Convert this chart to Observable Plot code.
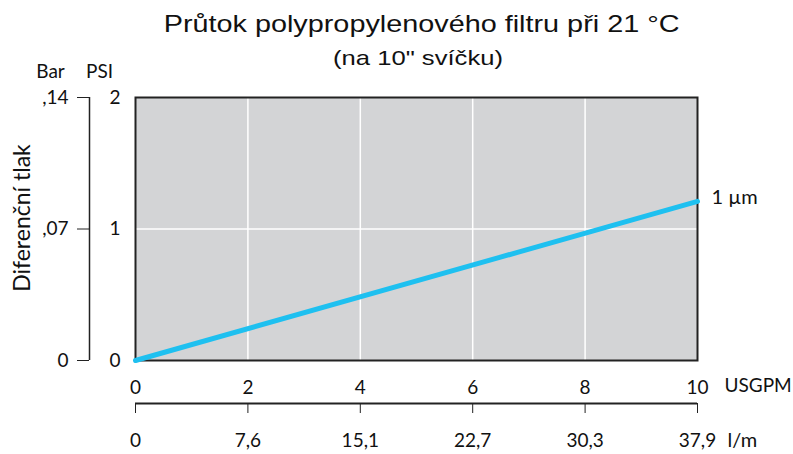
<!DOCTYPE html>
<html>
<head>
<meta charset="utf-8">
<script src="https://cdn.jsdelivr.net/npm/d3@7"></script>
<script src="https://cdn.jsdelivr.net/npm/@observablehq/plot@0.6"></script>
<style>
  body { margin: 0; background: #fff; width: 793px; height: 454px; overflow: hidden; position: relative; }
  #head { position: absolute; left: 0; top: 0; width: 793px; height: 80px; z-index: 2; font-family: "Liberation Sans", Arial, sans-serif; color: #111; pointer-events: none; }
  #title { position: absolute; left: 0; width: 843px; top: 10px; text-align: center; font-size: 24px; transform: scaleX(1.2); transform-origin: 421px 0; white-space: nowrap; }
  #sub { position: absolute; left: 0; width: 836px; top: 46px; text-align: center; font-size: 21px; transform: scaleX(1.22); transform-origin: 418px 0; white-space: nowrap; }
  #chart { position: absolute; left: 0; top: 0; }
  #chart svg { display: block; }
</style>
</head>
<body>
<div id="chart"></div>
<div id="head">
  <div id="title">Průtok polypropylenového filtru při 21 °C</div>
  <div id="sub">(na 10" svíčku)</div>
</div>
<script>
const flowUSGPM = [0, 10];
const pressurePSI = [0, 1.21];
const seriesLabel = "1 µm";
const xTicks = [0, 2, 4, 6, 8, 10];
const lpmLabels = ["0", "7,6", "15,1", "22,7", "30,3", "37,9"];
const psiTicks = [0, 1, 2];
const barLabels = ["0", ",07", ",14"];

const data = flowUSGPM.map((x, i) => ({x, y: pressurePSI[i]}));
const font = "Lato, 'Open Sans', sans-serif";

const chart = Plot.plot({
  width: 793,
  height: 454,
  marginLeft: 135,
  marginRight: 96,
  marginTop: 97,
  marginBottom: 94,
  style: {fontFamily: font, fontSize: "19px", color: "#111", background: "transparent"},
  x: {domain: [0, 10]},
  y: {domain: [0, 2]},
  marks: [
    Plot.frame({fill: "#d3d4d6"}),
    Plot.ruleX([2, 4, 6, 8], {stroke: "#fff", strokeWidth: 1.5}),
    Plot.ruleY([1], {stroke: "#fff", strokeWidth: 1.5}),
    Plot.frame({stroke: "#222", strokeWidth: 2}),
    Plot.line(data, {x: "x", y: "y", stroke: "#1ec0f0", strokeWidth: 5, strokeLinecap: "round"}),
    Plot.text([data[data.length - 1]], {x: "x", y: "y", text: () => seriesLabel, textAnchor: "start", dx: 14, dy: -4, fontSize: 20}),
    // PSI axis
    Plot.axisY({ticks: psiTicks, tickSize: 0, tickPadding: 15, tickFormat: d => String(d), label: null, fontSize: 19}),
    // Bar axis
    Plot.axisY({ticks: psiTicks, tickSize: 12, tickPadding: 9, tickFormat: d => barLabels[psiTicks.indexOf(d)], label: null, dx: -46, stroke: "#222", fontSize: 19}),
    Plot.ruleX([0], {y1: 0, y2: 2, dx: -46, stroke: "#222", strokeWidth: 1.5}),
    Plot.text([2], {x: () => 0, y: d => d, dx: -85, dy: -26, text: () => "Bar", textAnchor: "middle", fontSize: 19}),
    Plot.text([2], {x: () => 0, y: d => d, dx: -36, dy: -26, text: () => "PSI", textAnchor: "middle", fontSize: 19}),
    Plot.text([1], {x: () => 0, y: d => d, dx: -113, dy: -11, rotate: -90, text: () => "Diferenční tlak", textAnchor: "middle", fontSize: 23}),
    // USGPM axis
    Plot.axisX({ticks: xTicks, tickSize: 0, tickPadding: 20, tickFormat: d => String(d), label: null, fontSize: 19}),
    Plot.text([10], {x: d => d, y: () => 0, dx: 27, dy: 25, text: () => "USGPM", textAnchor: "start", fontSize: 19}),
    // l/m axis
    Plot.ruleY([0], {x1: 0, x2: 10, dy: 43, stroke: "#222", strokeWidth: 2}),
    Plot.axisX({ticks: xTicks, tickSize: 10, tickPadding: 20, tickFormat: d => lpmLabels[xTicks.indexOf(d)], label: null, dy: 43, stroke: "#222", fontSize: 19}),
    Plot.text([10], {x: d => d, y: () => 0, dx: 30, dy: 80, text: () => "l/m", textAnchor: "start", fontSize: 20})
  ]
});
document.getElementById("chart").appendChild(chart);
</script>
</body>
</html>
